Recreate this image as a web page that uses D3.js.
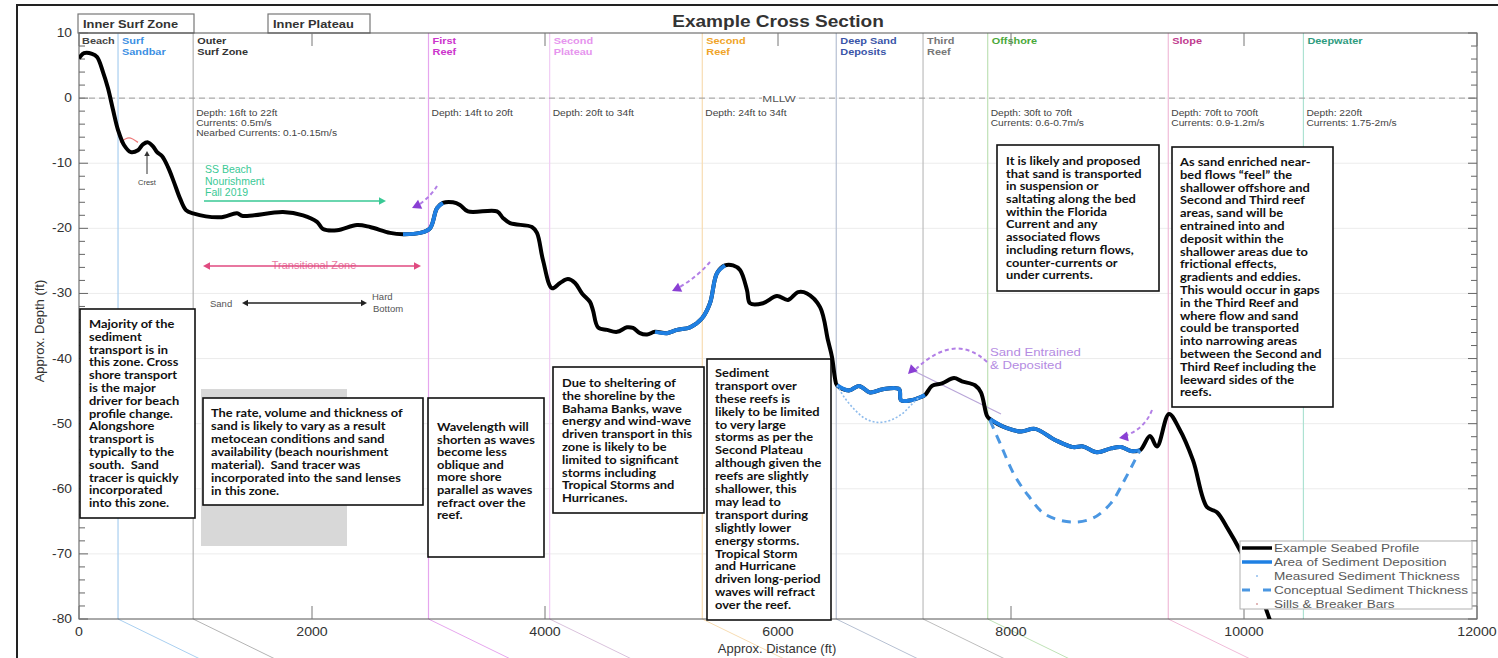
<!DOCTYPE html>
<html>
<head>
<meta charset="utf-8">
<script src="https://cdn.jsdelivr.net/npm/d3@7"></script>
<style>
  body { margin: 0; background: #fff; }
  svg { display: block; }
  text { white-space: pre; }
</style>
</head>
<body>
<svg id="chart" width="1498" height="658"></svg>
<script>
// ---- Seabed profile (distance offshore in ft, depth relative to MLLW in ft) ----
const profileDist = [0,43,112,155,206,249,292,335,386,446,506,549,592,635,670,712,764,815,867,918,979,1210,1356,1408,1751,1923,2043,2094,2215,2386,2498,2670,2781,2927,3013,3073,3124,3210,3270,3339,3588,3639,3700,3888,3931,3983,4060,4129,4197,4258,4318,4386,4412,4455,4532,4618,4704,4755,4815,4876,4944,5047,5133,5245,5348,5416,5476,5545,5614,5674,5734,5760,5871,5991,6086,6172,6249,6361,6429,6464,6489,6506,6609,6695,6790,6901,7039,7056,7142,7227,7262,7322,7408,7511,7579,7691,7742,7794,7820,7966,8086,8206,8378,8532,8618,8738,8858,8944,9030,9107,9193,9253,9356,9442,9562,9682,9768,9863,9974,10094,10223];
const profileDepth = [6.1,6.9,6.8,6.3,4.0,1.5,-1.8,-4.9,-7.2,-8.3,-8.0,-7.1,-6.8,-7.4,-8.3,-8.9,-10.6,-12.9,-15.4,-17.2,-17.7,-18.3,-17.7,-18.1,-17.5,-18.0,-19.0,-20.1,-20.3,-19.5,-19.8,-20.7,-20.9,-20.7,-20.0,-16.9,-16.1,-16.0,-16.4,-17.4,-17.4,-18.4,-19.2,-19.8,-20.7,-24.9,-29.2,-28.4,-27.8,-28.4,-30.0,-31.3,-32.6,-35.2,-35.6,-35.9,-35.2,-35.3,-36.1,-36.3,-35.9,-36.1,-35.6,-35.2,-33.8,-31.5,-26.9,-25.7,-25.7,-26.4,-29.5,-31.5,-31.5,-30.4,-31.0,-29.8,-30.0,-32.1,-37.2,-39.8,-43.0,-44.1,-44.9,-44.2,-45.2,-44.7,-44.7,-46.4,-46.4,-45.9,-45.6,-44.2,-43.8,-43.0,-43.5,-44.1,-45.2,-48.8,-49.3,-50.7,-51.2,-50.8,-52.5,-53.6,-53.5,-54.4,-53.8,-53.6,-54.2,-54.1,-51.9,-53.5,-48.5,-50.7,-55.6,-62.8,-63.6,-66.2,-69.7,-74.0,-80.2];

// Stretches of the profile where sediment is deposited (ft)
const depositStart = [2781, 4944, 6506, 7820];
const depositEnd   = [3124, 5545, 7262, 9107];

// Measured sediment thickness (base of sand lens, Deep Sand Deposits)
const measuredDist  = [6506,6575,6661,6747,6850,6961,7064,7150,7219];
const measuredDepth = [-44.1,-46.1,-47.9,-49.2,-49.8,-49.5,-48.5,-47.0,-45.8];

// Conceptual sediment thickness (base of sand lens, Offshore)
const conceptDist  = [7820,7906,8026,8146,8292,8515,8704,8858,8970,9064,9107];
const conceptDepth = [-49.5,-53.0,-57.8,-61.0,-63.9,-65.1,-64.5,-62.2,-58.8,-55.6,-54.1];

// Sills & breaker bars
const sillDist  = [352, 429, 506];
const sillDepth = [-6.8, -6.1, -6.8];

// Zones along the cross section
const zoneStart = [0, 335, 980, 3000, 4040, 5350, 6500, 7245, 7800, 9350, 10510];
const zoneLabel = [["Beach"],["Surf","Sandbar"],["Outer","Surf Zone"],["First","Reef"],["Second","Plateau"],["Second","Reef"],["Deep Sand","Deposits"],["Third","Reef"],["Offshore"],["Slope"],["Deepwater"]];
const zoneNoteStart = [980, 3000, 4040, 5350, 7800, 9350, 10510];
const zoneNote = [
  ["Depth: 16ft to 22ft","Currents: 0.5m/s","Nearbed Currents: 0.1-0.15m/s"],
  ["Depth: 14ft to 20ft"],
  ["Depth: 20ft to 34ft"],
  ["Depth: 24ft to 34ft"],
  ["Depth: 30ft to 70ft","Currents: 0.6-0.7m/s"],
  ["Depth: 70ft to 700ft","Currents: 0.9-1.2m/s"],
  ["Depth: 220ft","Currents: 1.75-2m/s"]
];

// Axis ticks
const xTicks = [0,2000,4000,6000,8000,10000,12000];
const yTicks = [10,0,-10,-20,-30,-40,-50,-60,-70,-80];

const legendLabels = ["Example Seabed Profile","Area of Sediment Deposition","Measured Sediment Thickness","Conceptual Sediment Thickness","Sills & Breaker Bars"];

// Explanatory notes
const noteText = [
  ["Majority of the","sediment","transport is in","this zone. Cross","shore transport","is the major","driver for beach","profile change.","Alongshore","transport is","typically to the","south.  Sand","tracer is quickly","incorporated","into this zone."],
  ["The rate, volume and thickness of","sand is likely to vary as a result","metocean conditions and sand","availability (beach nourishment","material).  Sand tracer was","incorporated into the sand lenses","in this zone."],
  ["Wavelength will","shorten as waves","become less","oblique and","more shore","parallel as waves","refract over the","reef."],
  ["Due to sheltering of","the shoreline by the","Bahama Banks, wave","energy and wind-wave","driven transport in this","zone is likely to be","limited to significant","storms including","Tropical Storms and","Hurricanes."],
  ["Sediment","transport over","these reefs is","likely to be limited","to very large","storms as per the","Second Plateau","although given the","reefs are slightly","shallower, this","may lead to","transport during","slightly lower","energy storms.","Tropical Storm","and Hurricane","driven long-period","waves will refract","over the reef."],
  ["It is likely and proposed","that sand is transported","in suspension or","saltating along the bed","within the Florida","Current and any","associated flows","including return flows,","counter-currents or","under currents."],
  ["As sand enriched near-","bed flows \u201cfeel\u201d the","shallower offshore and","Second and Third reef","areas, sand will be","entrained into and","deposit within the","shallower areas due to","frictional effects,","gradients and eddies.","This would occur in gaps","in the Third Reef and","where flow and sand","could be transported","into narrowing areas","between the Second and","Third Reef including the","leeward sides of the","reefs."]
];

// ---------------- layout & styles ----------------
const W = 1498, H = 658;
const plot = { left: 79, right: 1477, top: 33, bottom: 619 };
const sans = "'Liberation Sans', Arial, sans-serif";
const noteFont = "Lato, 'Open Sans', sans-serif";
const wide = 1.17; // horizontal stretch of the figure's lettering
const zoneColor = ["#444","#3b8fe3","#333","#cc33cc","#e694ee","#f0a428","#3a55a8","#777","#4aa83a","#c03a8e","#2e9c80"];
const zoneLineColor = ["none","#a9cff0","#b4b4b4","#e6a6ee","#f1cdf5","#f7dcb2","#b6c0d2","#bdbdbd","#bfe2b6","#f0bcd9","#ade2d2"];
const noteBox = [
  {x:80, y:309, w:115, h:209, tx:89,  ty:328, dy:12.8},
  {x:203,y:398, w:220, h:107, tx:211, ty:417, dy:13.0},
  {x:428,y:398, w:116, h:159, tx:437, ty:431, dy:12.6},
  {x:553,y:367, w:151, h:146, tx:562, ty:387, dy:12.8},
  {x:707,y:359, w:124, h:261, tx:715, ty:377, dy:12.9},
  {x:997,y:145, w:162, h:146, tx:1006,ty:165, dy:12.7},
  {x:1172,y:147,w:161, h:260, tx:1180,ty:166, dy:12.8}
];

const svg = d3.select("#chart");
const x = d3.scaleLinear().domain([0, 12000]).range([plot.left, plot.right]);
const y = d3.scaleLinear().domain([10, -80]).range([plot.top, plot.bottom]);

// text with horizontal stretch; anchor point (px, py)
function sText(parent, px, py, str, sx) {
  return parent.append("text").attr("transform", `translate(${px},${py}) scale(${sx},1)`).text(str);
}
// multi-line block stretched horizontally from left edge px
function sBlock(parent, px, lines, y0, dy, sx) {
  const t = parent.append("text").attr("transform", `translate(${px},0) scale(${sx},1)`);
  t.selectAll("tspan").data(lines).join("tspan").attr("x",0).attr("y",(d,i)=>y0+i*dy).text(d=>d);
  return t;
}

svg.append("defs").append("clipPath").attr("id","plotClip")
  .append("rect").attr("x",plot.left).attr("y",plot.top)
  .attr("width",plot.right-plot.left).attr("height",plot.bottom-plot.top);

// outer figure frame
svg.append("rect").attr("x",17).attr("y",5).attr("width",1520).attr("height",700)
  .attr("fill","none").attr("stroke","#222").attr("stroke-width",2);

// title
sText(svg, 778, 27, "Example Cross Section", 1.19).attr("text-anchor","middle")
  .attr("font-family",sans).attr("font-weight","bold").attr("font-size",16).attr("fill","#333");

// horizontal grid
svg.append("g").selectAll("line").data(yTicks.slice(1,-1)).join("line")
  .attr("x1",plot.left).attr("x2",plot.right).attr("y1",d=>y(d)).attr("y2",d=>y(d))
  .attr("stroke","#ececec").attr("stroke-width",1);

// zone boundaries (with their extension below the axis)
const zoneIdx = d3.range(1, zoneStart.length);
svg.append("g").selectAll("line").data(zoneIdx).join("line")
  .attr("x1",i=>x(zoneStart[i])).attr("x2",i=>x(zoneStart[i]))
  .attr("y1",plot.top).attr("y2",plot.bottom)
  .attr("stroke",i=>zoneLineColor[i]).attr("stroke-width",1.2);
svg.append("g").selectAll("line").data(zoneIdx.filter(i=>i<zoneStart.length-1)).join("line")
  .attr("x1",i=>x(zoneStart[i])).attr("x2",i=>x(zoneStart[i])+82)
  .attr("y1",plot.bottom).attr("y2",H+1)
  .attr("stroke",i=>zoneLineColor[i]==="#f1cdf5"?"#d9c2dc":zoneLineColor[i]).attr("stroke-width",1);

// zone labels
const zl = svg.append("g").attr("font-family",sans).attr("font-size",9.5).attr("font-weight","bold");
zoneLabel.forEach((lines,i)=>{
  sBlock(zl, x(zoneStart[i]) + (i===0?3:4), lines, 44, 11.5, 1.15).attr("fill",zoneColor[i]);
});

// MLLW datum
svg.append("line").attr("x1",plot.left).attr("x2",plot.right).attr("y1",y(0)).attr("y2",y(0))
  .attr("stroke","#9a9a9a").attr("stroke-width",1).attr("stroke-dasharray","6,4");
svg.append("rect").attr("x",762).attr("y",y(0)-5).attr("width",34).attr("height",10).attr("fill","#fff");
sText(svg, 779, y(0)+3.5, "MLLW", 1.25).attr("text-anchor","middle")
  .attr("font-family",sans).attr("font-size",9.5).attr("fill","#555");

// zone notes
const zn = svg.append("g").attr("font-family",sans).attr("font-size",9.3).attr("fill","#444");
zoneNote.forEach((lines,i)=>{
  sBlock(zn, x(zoneNoteStart[i])+3, lines, 116, 9.8, 1.1);
});

// header boxes
function headerBox(x0,x1,label){
  svg.append("rect").attr("x",x0).attr("y",14).attr("width",x1-x0).attr("height",19)
    .attr("fill","#fff").attr("stroke","#777").attr("stroke-width",1.2);
  sText(svg, x0+5, 28, label, 1.17).attr("font-family",sans).attr("font-weight","bold")
    .attr("font-size",11).attr("fill","#333");
}
headerBox(78,194,"Inner Surf Zone");
headerBox(268,370,"Inner Plateau");

// axes frame & ticks
const axis = svg.append("g").attr("stroke","#333").attr("stroke-width",1).attr("fill","none");
axis.append("rect").attr("x",plot.left).attr("y",plot.top)
  .attr("width",plot.right-plot.left).attr("height",plot.bottom-plot.top).attr("stroke","#555");
d3.range(10,-80.1,-2).forEach(v=>{
  const major = Math.abs(v%10)<1e-9;
  const len = major?9:6;
  axis.append("line").attr("x1",plot.left).attr("x2",plot.left+len).attr("y1",y(v)).attr("y2",y(v)).attr("stroke","#666");
  axis.append("line").attr("x1",plot.right).attr("x2",plot.right-len).attr("y1",y(v)).attr("y2",y(v)).attr("stroke","#666");
});
xTicks.forEach(v=>{
  axis.append("line").attr("x1",x(v)).attr("x2",x(v)).attr("y1",plot.bottom).attr("y2",plot.bottom-13).attr("stroke","#777");
  axis.append("line").attr("x1",x(v)).attr("x2",x(v)).attr("y1",plot.top).attr("y2",plot.top+13).attr("stroke","#777");
});
const tl = svg.append("g").attr("font-family",sans).attr("font-size",12).attr("fill","#333");
yTicks.forEach(v=>sText(tl, 72, y(v)+4, v, 1.15).attr("text-anchor","end"));
xTicks.forEach(v=>sText(tl, x(v), 636, v, 1.18).attr("text-anchor","middle"));
svg.append("text").attr("x",777).attr("y",653).attr("text-anchor","middle")
  .attr("font-family",sans).attr("font-size",13).attr("fill","#333").text("Approx. Distance (ft)");
svg.append("text").attr("transform","translate(44,331) rotate(-90)").attr("text-anchor","middle")
  .attr("font-family",sans).attr("font-size",13).attr("fill","#333").text("Approx. Depth (ft)");

// annotations on the inner plateau
const ann = svg.append("g").attr("font-family",sans);
sBlock(ann, 205, ["SS Beach","Nourishment","Fall 2019"], 173, 11.5, 1.0)
  .attr("fill","#39c995").attr("font-size",10.5);
function arrowHead(g, xh, yh, ang, color, size){
  const a = ang*Math.PI/180, s=size;
  const p = [[xh,yh],[xh-s*Math.cos(a)+s*0.55*Math.sin(a), yh-s*Math.sin(a)-s*0.55*Math.cos(a)],
             [xh-s*Math.cos(a)-s*0.55*Math.sin(a), yh-s*Math.sin(a)+s*0.55*Math.cos(a)]];
  g.append("path").attr("d","M"+p.map(q=>q.join(",")).join("L")+"Z").attr("fill",color);
}
ann.append("line").attr("x1",204).attr("x2",380).attr("y1",201).attr("y2",201).attr("stroke","#39c995").attr("stroke-width",1.5);
arrowHead(ann,386,201,0,"#39c995",7);
sText(ann, 314, 269, "Transitional Zone", 1.05).attr("text-anchor","middle").attr("font-size",10.5).attr("fill","#e87aa2");
ann.append("line").attr("x1",209).attr("x2",415).attr("y1",266).attr("y2",266).attr("stroke","#e04a80").attr("stroke-width",1.5);
arrowHead(ann,421,266,0,"#e04a80",7);
arrowHead(ann,203,266,180,"#e04a80",7);
ann.append("line").attr("x1",247).attr("x2",362).attr("y1",303).attr("y2",303).attr("stroke","#222").attr("stroke-width",1.3);
arrowHead(ann,367,303,0,"#222",6);
arrowHead(ann,242,303,180,"#222",6);
ann.append("text").attr("x",210).attr("y",307).attr("font-size",9.5).attr("fill","#555").text("Sand");
ann.append("text").attr("x",372).attr("y",300).attr("font-size",9.5).attr("fill","#555").text("Hard");
ann.append("text").attr("x",373).attr("y",312).attr("font-size",9.5).attr("fill","#555").text("Bottom");
// crest marker
ann.append("line").attr("x1",147).attr("x2",147).attr("y1",174).attr("y2",156).attr("stroke","#333").attr("stroke-width",1);
arrowHead(ann,147,151,-90,"#333",5);
ann.append("text").attr("x",147).attr("y",185).attr("text-anchor","middle").attr("font-size",7.5).attr("fill","#444").text("Crest");

// shaded zone behind second note
svg.append("rect").attr("x",201).attr("y",389).attr("width",146).attr("height",157).attr("fill","#d8d8d8");

// explanatory notes
noteBox.forEach((b,i)=>{
  const g = svg.append("g");
  g.append("rect").attr("x",b.x).attr("y",b.y).attr("width",b.w).attr("height",b.h)
    .attr("fill","#fff").attr("stroke","#111").attr("stroke-width",1.6);
  sBlock(g, b.tx, noteText[i], b.ty, b.dy, wide)
    .attr("font-family",noteFont).attr("font-weight","bold").attr("font-size",11).attr("fill","#111");
});

// sand entrainment arrows
const purple = "#b27fe6", purpleHead = "#8a3fd4";
const pa = svg.append("g").attr("fill","none").attr("stroke",purple).attr("stroke-width",2).attr("stroke-dasharray","4,3");
pa.append("path").attr("d","M437,186 Q431,196 420,204");
pa.append("path").attr("d","M710,262 Q698,276 680,287");
pa.append("path").attr("d","M987,362 Q955,332 916,369");
pa.append("path").attr("d","M1152,410 Q1145,428 1127,435");
svg.append("line").attr("x1",914).attr("y1",371).attr("x2",1001).attr("y2",414).attr("stroke","#b9a6d8").attr("stroke-width",1.2);
const ph = svg.append("g");
arrowHead(ph,412,208,155,purpleHead,9);
arrowHead(ph,672,291,155,purpleHead,9);
arrowHead(ph,908,374,135,purpleHead,9);
arrowHead(ph,1119,438,170,purpleHead,9);
sBlock(svg, 990, ["Sand Entrained","& Deposited"], 356, 13, 1.2)
  .attr("font-family",sans).attr("font-size",11).attr("fill","#b48be2");

// profile & sediment layers
const profile = profileDist.map((d,i)=>({d, z: profileDepth[i]}));
const line = d3.line().x(p=>x(p.d)).y(p=>y(p.z)).curve(d3.curveCatmullRom.alpha(0.5));
const marks = svg.append("g").attr("clip-path","url(#plotClip)");
marks.append("path").datum(sillDist.map((d,i)=>({d, z: sillDepth[i]})))
  .attr("d",line).attr("fill","none").attr("stroke","#ee7a7a").attr("stroke-width",1.3);
marks.append("path").datum(profile).attr("d",line).attr("fill","none")
  .attr("stroke","#000").attr("stroke-width",4).attr("stroke-linejoin","round");
depositStart.forEach((s,i)=>{
  marks.append("path").datum(profile.filter(p=>p.d>=s && p.d<=depositEnd[i])).attr("d",line)
    .attr("fill","none").attr("stroke","#1f80e3").attr("stroke-width",4).attr("stroke-linejoin","round");
});
marks.append("path").datum(measuredDist.map((d,i)=>({d, z: measuredDepth[i]})))
  .attr("d",line).attr("fill","none").attr("stroke","#8fbcec").attr("stroke-width",1.6).attr("stroke-dasharray","2,2");
marks.append("path").datum(conceptDist.map((d,i)=>({d, z: conceptDepth[i]})))
  .attr("d",line).attr("fill","none").attr("stroke","#4b97e2").attr("stroke-width",3).attr("stroke-dasharray","9,7");

// legend
const lg = svg.append("g");
lg.append("rect").attr("x",1240).attr("y",541).attr("width",232).attr("height",68)
  .attr("fill","#fff").attr("stroke","#b0b0b0").attr("stroke-width",1);
const rowY = d3.range(5).map(i=>548+i*14);
lg.append("line").attr("x1",1242).attr("x2",1272).attr("y1",rowY[0]).attr("y2",rowY[0]).attr("stroke","#000").attr("stroke-width",3.5);
lg.append("line").attr("x1",1242).attr("x2",1272).attr("y1",rowY[1]).attr("y2",rowY[1]).attr("stroke","#1f80e3").attr("stroke-width",3.5);
lg.append("circle").attr("cx",1257).attr("cy",rowY[2]).attr("r",1).attr("fill","#8fbcec");
lg.append("line").attr("x1",1242).attr("x2",1272).attr("y1",rowY[3]).attr("y2",rowY[3]).attr("stroke","#4b97e2").attr("stroke-width",3).attr("stroke-dasharray","8,13");
lg.append("circle").attr("cx",1257).attr("cy",rowY[4]).attr("r",1).attr("fill","#d9a0a0");
sBlock(lg, 1274, legendLabels, rowY[0]+4, 14, 1.18)
  .attr("font-family",sans).attr("font-size",11.5).attr("fill","#5a5a5a");
</script>
</body>
</html>
